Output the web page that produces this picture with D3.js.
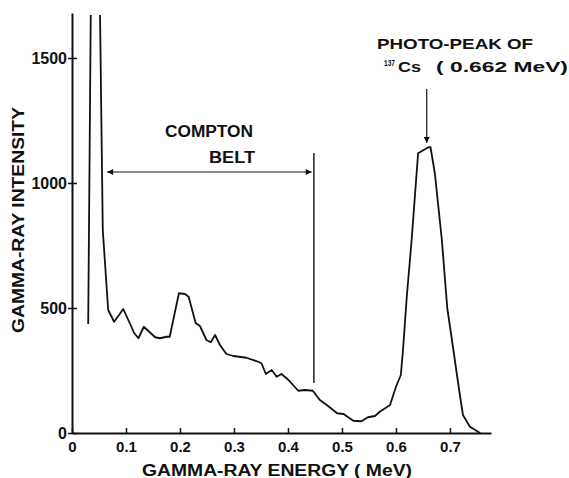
<!DOCTYPE html>
<html>
<head>
<meta charset="utf-8">
<script src="https://cdn.jsdelivr.net/npm/d3@7"></script>
<style>
  html, body { margin: 0; padding: 0; background: #fff; }
  svg { display: block; }
  text { font-family: "Liberation Sans", Arial, sans-serif; font-weight: bold; fill: #111; }
</style>
</head>
<body>
<svg id="chart"></svg>
<script>
// gamma-ray spectrum (energy in MeV, intensity in counts)
const energy = [
    0.030, 0.036, 0.050, 0.057, 0.067, 0.078, 0.095, 0.110, 0.115, 0.123,
    0.133, 0.143, 0.154, 0.163, 0.175, 0.181, 0.198, 0.209, 0.216, 0.229,
    0.237, 0.249, 0.257, 0.265, 0.274, 0.286, 0.299, 0.323, 0.345, 0.351,
    0.359, 0.370, 0.379, 0.388, 0.401, 0.419, 0.431, 0.446, 0.459, 0.472,
    0.491, 0.503, 0.521, 0.536, 0.548, 0.561, 0.570, 0.589, 0.600, 0.609,
    0.613, 0.620, 0.629, 0.641, 0.660, 0.664, 0.672, 0.685, 0.695, 0.701,
    0.717, 0.724, 0.737, 0.752, 0.756
];
const intensity = [
    436, 2000, 2000, 812, 492, 445, 496, 425, 400, 379,
    425, 405, 383, 379, 385, 385, 559, 556, 545, 440,
    428, 372, 363, 392, 352, 316, 308, 301, 285, 279,
    236, 252, 225, 236, 212, 169, 172, 169, 132, 112,
    79, 76, 49, 47, 63, 68, 85, 112, 185, 232,
    332, 545, 772, 1119, 1143, 1143, 1039, 772, 499, 412,
    172, 72, 25, 5, 0
];

const xTicks = [0, 0.1, 0.2, 0.3, 0.4, 0.5, 0.6, 0.7];
const yTicks = [0, 500, 1000, 1500];

// annotation anchors (data units)
const comptonStart = 0.065, comptonEnd = 0.444, comptonLevel = 1044;
const comptonEdge = 0.448, comptonEdgeTop = 1120, comptonEdgeBottom = 200;
const peakArrowX = 0.657, peakArrowTop = 1376, peakArrowTip = 1160;

const width = 569, height = 478;
const margin = { left: 72, right: 78, top: 13, bottom: 45 };

const svg = d3.select('#chart')
    .attr('width', width)
    .attr('height', height);

// scales
const xScale = d3.scaleLinear()
    .domain([0, 0.776])
    .range([margin.left, width - margin.right]);

const yScale = d3.scaleLinear()
    .domain([0, 1680])
    .range([height - margin.bottom, margin.top]);

// arrow head
svg.append('defs').append('marker')
    .attr('id', 'head')
    .attr('viewBox', '0 0 10 10')
    .attr('refX', 10)
    .attr('refY', 5)
    .attr('markerWidth', 8)
    .attr('markerHeight', 6)
    .attr('markerUnits', 'userSpaceOnUse')
    .attr('orient', 'auto-start-reverse')
    .append('path')
    .attr('d', 'M0,0 L10,5 L0,10 Z')
    .style('fill', '#111');

svg.select('defs').append('clipPath')
    .attr('id', 'plot-clip')
    .append('rect')
    .attr('x', margin.left)
    .attr('y', margin.top + 2)
    .attr('width', width - margin.left)
    .attr('height', height - margin.top - margin.bottom);

// x axis
const xAxis = svg.append('g')
    .attr('transform', `translate(0, ${yScale(0)})`)
    .call(d3.axisBottom(xScale)
        .tickValues(xTicks)
        .tickSizeInner(-5)
        .tickSizeOuter(0)
        .tickFormat(d => d === 0 ? '0' : d3.format('.1f')(d)));
xAxis.select('.domain').attr('stroke', '#111').attr('stroke-width', 2);
xAxis.selectAll('.tick line').attr('stroke', '#111').attr('stroke-width', 1.5);
xAxis.selectAll('.tick text')
    .attr('y', 19)
    .attr('dy', 0)
    .attr('font-size', '15px')
    .attr('font-family', null);

// y axis
const yAxis = svg.append('g')
    .attr('transform', `translate(${xScale(0)}, 0)`)
    .call(d3.axisLeft(yScale)
        .tickValues(yTicks)
        .tickSizeInner(4)
        .tickSizeOuter(0)
        .tickFormat(d3.format('d')));
yAxis.select('.domain').attr('stroke', '#111').attr('stroke-width', 2);
yAxis.selectAll('.tick line')
    .attr('x1', 5)
    .attr('x2', -4)
    .attr('stroke', '#111')
    .attr('stroke-width', 1.5);
yAxis.selectAll('.tick text')
    .attr('x', -5)
    .attr('dy', '0.36em')
    .attr('font-size', '16px')
    .attr('font-family', null);

// spectrum curve
const points = energy.map((e, i) => [e, intensity[i]]);
svg.append('path')
    .datum(points)
    .attr('clip-path', 'url(#plot-clip)')
    .attr('d', d3.line().x(d => xScale(d[0])).y(d => yScale(d[1])))
    .style('fill', 'none')
    .style('stroke', '#111')
    .style('stroke-width', 1.8)
    .style('stroke-linejoin', 'round');

// Compton belt annotation
svg.append('line')
    .attr('x1', xScale(comptonStart))
    .attr('x2', xScale(comptonEnd))
    .attr('y1', yScale(comptonLevel))
    .attr('y2', yScale(comptonLevel))
    .attr('marker-start', 'url(#head)')
    .attr('marker-end', 'url(#head)')
    .style('stroke', '#111')
    .style('stroke-width', 1.2);

svg.append('line')
    .attr('x1', xScale(comptonEdge))
    .attr('x2', xScale(comptonEdge))
    .attr('y1', yScale(comptonEdgeTop))
    .attr('y2', yScale(comptonEdgeBottom))
    .style('stroke', '#111')
    .style('stroke-width', 1.4);

// photo-peak arrow
svg.append('line')
    .attr('x1', xScale(peakArrowX))
    .attr('x2', xScale(peakArrowX))
    .attr('y1', yScale(peakArrowTop))
    .attr('y2', yScale(peakArrowTip))
    .attr('marker-end', 'url(#head)')
    .style('stroke', '#111')
    .style('stroke-width', 1.2);

// text labels stretched to the lettering widths of the original
function label(x, y, str, len, size) {
    return svg.append('text')
        .attr('x', x)
        .attr('y', y)
        .attr('font-size', size + 'px')
        .attr('textLength', len)
        .attr('lengthAdjust', 'spacingAndGlyphs')
        .text(str);
}

label(165, 137, 'COMPTON', 88, 16);
label(209, 163, 'BELT', 46, 16);
label(377, 49, 'PHOTO-PEAK  OF', 156, 15);
label(384, 66, '137', 11, 9);
label(398, 72, 'Cs', 23, 15);
label(436, 72, '( 0.662 MeV)', 132, 15);

label(142, 476, 'GAMMA-RAY   ENERGY ( MeV)', 270, 16);

svg.append('text')
    .attr('transform', 'translate(24, 333) rotate(-90)')
    .attr('font-size', '16px')
    .attr('textLength', 226)
    .attr('lengthAdjust', 'spacingAndGlyphs')
    .text('GAMMA-RAY   INTENSITY');
</script>
</body>
</html>
